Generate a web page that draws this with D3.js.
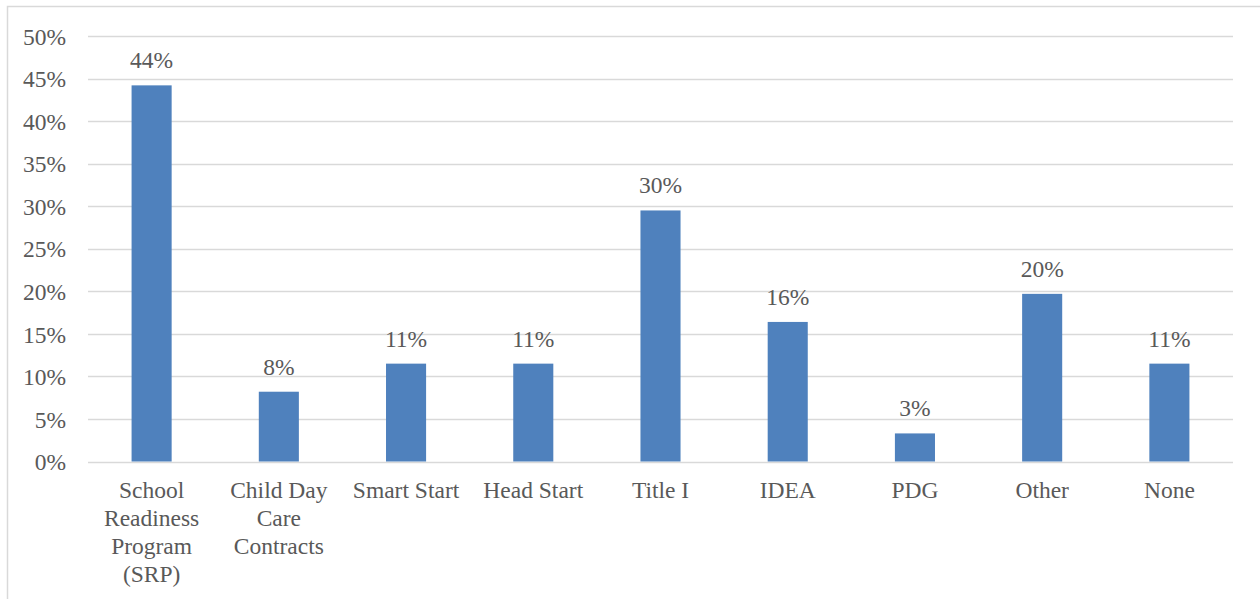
<!DOCTYPE html>
<html>
<head>
<meta charset="utf-8">
<script src="https://cdn.jsdelivr.net/npm/d3@7"></script>
<style>
  html, body { margin: 0; padding: 0; background: #fff; }
  #chart { width: 1260px; height: 599px; }
</style>
</head>
<body>
<div id="chart"></div>
<script>
// 数据
const categories = [
    ['School', 'Readiness', 'Program', '(SRP)'],
    ['Child Day', 'Care', 'Contracts'],
    ['Smart Start'],
    ['Head Start'],
    ['Title I'],
    ['IDEA'],
    ['PDG'],
    ['Other'],
    ['None']
];
const values = [0.442, 0.082, 0.115, 0.115, 0.295, 0.164, 0.033, 0.197, 0.115];
const valueLabels = ['44%', '8%', '11%', '11%', '30%', '16%', '3%', '20%', '11%'];
const yTicks = [0, 0.05, 0.1, 0.15, 0.2, 0.25, 0.3, 0.35, 0.4, 0.45, 0.5];

const FONT = '"Liberation Serif", "Times New Roman", serif';
const FONT_SIZE = '23.5px';
const TEXT_COLOR = '#595959';

function renderChart() {
    const width = 1260;
    const height = 599;
    const margin = { top: 36, right: 27, bottom: 137.5, left: 88 };

    const svg = d3.select('#chart')
        .append('svg')
        .attr('width', width)
        .attr('height', height)
        .style('font-family', FONT);

    // 外框
    svg.append('rect')
        .attr('x', 7.5)
        .attr('y', 6.5)
        .attr('width', width + 10)
        .attr('height', height + 10)
        .attr('fill', 'none')
        .attr('stroke', '#d9d9d9')
        .attr('stroke-width', 1.5);

    const x = d3.scaleBand()
        .domain(d3.range(categories.length))
        .range([margin.left, width - margin.right])
        .paddingInner(0.685)
        .paddingOuter(0.3425);

    const y = d3.scaleLinear()
        .domain([0, 0.5])
        .range([height - margin.bottom, margin.top]);

    // 网格线
    svg.append('g')
        .selectAll('line')
        .data(yTicks)
        .join('line')
        .attr('x1', margin.left)
        .attr('x2', width - margin.right)
        .attr('y1', d => Math.round(y(d)) + 0.5)
        .attr('y2', d => Math.round(y(d)) + 0.5)
        .attr('stroke', '#d9d9d9')
        .attr('stroke-width', 1.5);

    // y轴
    const yAxis = svg.append('g')
        .attr('transform', `translate(${margin.left - 22},0)`)
        .call(d3.axisLeft(y).tickValues(yTicks).tickFormat(d3.format('.0%')).tickSize(0).tickPadding(0));
    yAxis.attr('font-family', null).attr('font-size', null);
    yAxis.select('.domain').remove();
    yAxis.selectAll('text')
        .attr('dy', '0.35em')
        .style('font-size', FONT_SIZE)
        .style('font-family', FONT)
        .attr('fill', TEXT_COLOR);

    // 柱子
    svg.append('g')
        .selectAll('rect')
        .data(values)
        .join('rect')
        .attr('x', (d, i) => x(i))
        .attr('y', d => y(d))
        .attr('width', x.bandwidth())
        .attr('height', d => y(0) - y(d))
        .attr('fill', '#4f81bd');

    // 数值标签
    svg.append('g')
        .selectAll('text')
        .data(values)
        .join('text')
        .attr('x', (d, i) => x(i) + x.bandwidth() / 2)
        .attr('y', d => y(d) - 17)
        .attr('text-anchor', 'middle')
        .attr('fill', TEXT_COLOR)
        .style('font-family', FONT)
        .style('font-size', FONT_SIZE)
        .text((d, i) => valueLabels[i]);

    // x轴标签
    const xLabels = svg.append('g')
        .selectAll('text')
        .data(categories)
        .join('text')
        .attr('x', (d, i) => x(i) + x.bandwidth() / 2)
        .attr('y', 498)
        .attr('text-anchor', 'middle')
        .attr('fill', TEXT_COLOR)
        .style('font-family', FONT)
        .style('font-size', FONT_SIZE);

    xLabels.selectAll('tspan')
        .data(d => d)
        .join('tspan')
        .attr('x', function() { return this.parentNode.getAttribute('x'); })
        .attr('dy', (d, i) => i === 0 ? 0 : 28)
        .text(d => d);
}

renderChart();
</script>
</body>
</html>
